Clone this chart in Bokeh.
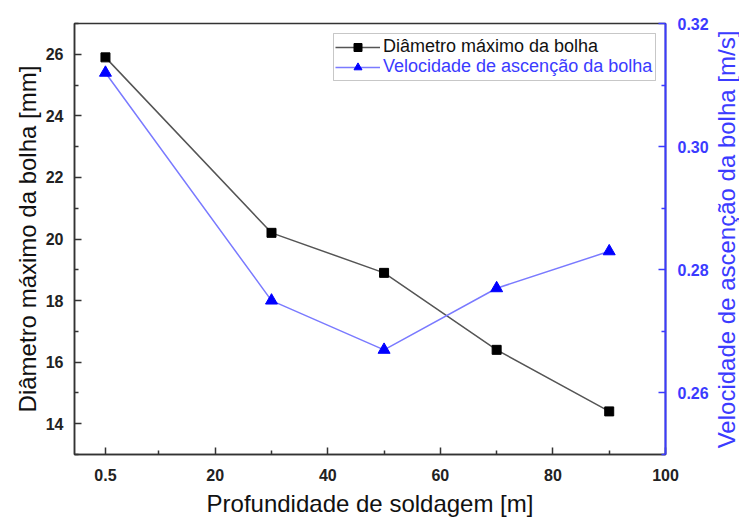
import math
from bokeh.plotting import figure
from bokeh.layouts import row
from bokeh.models import (Range1d, LinearAxis, FixedTicker, Legend, LegendItem,
                          BoxAnnotation, PrintfTickFormatter, Label)
from bokeh.embed import file_html
from bokeh.resources import INLINE

# data
depth = [0.5, 30, 50, 70, 90]
diameter = [25.9, 20.2, 18.9, 16.4, 14.4]
velocity = [0.312, 0.275, 0.267, 0.277, 0.283]

x_ticks = [0.5, 20, 40, 60, 80, 100]
x_tick_labels = {0.5: "0.5", 20: "20", 40: "40", 60: "60", 80: "80", 100: "100"}
x_minor = [10, 30, 50, 70, 90]
yl_ticks = [14, 16, 18, 20, 22, 24, 26]
yl_minor = [13, 15, 17, 19, 21, 23, 25, 27]
yr_ticks = [0.26, 0.28, 0.30, 0.32]
yr_minor = [0.25, 0.27, 0.29, 0.31]

FONT = "Liberation Sans"
BLUE = "#3b3bff"
DARK = "#333333"

p = figure(width=711, height=519, output_backend="svg", toolbar_location=None,
           x_range=Range1d(-5, 100), y_range=Range1d(13, 27),
           min_border_left=74, min_border_right=46, min_border_top=23,
           min_border_bottom=65)
p.extra_y_ranges = {"v": Range1d(0.25, 0.32)}
p.xgrid.visible = False
p.ygrid.visible = False
p.outline_line_color = DARK
p.outline_line_width = 1.5
p.background_fill_color = "white"
p.border_fill_color = "white"

# x axis
xa = p.xaxis[0]
xa.ticker = FixedTicker(ticks=x_ticks, minor_ticks=x_minor)
xa.major_label_overrides = x_tick_labels
xa.axis_label = "Profundidade de soldagem [m]"

# left axis
ya = p.yaxis[0]
ya.ticker = FixedTicker(ticks=yl_ticks, minor_ticks=yl_minor)
ya.axis_label = "Diâmetro máximo da bolha [mm]"

# right axis
ra = LinearAxis(y_range_name="v")
ra.ticker = FixedTicker(ticks=yr_ticks, minor_ticks=yr_minor)
ra.formatter = PrintfTickFormatter(format="%.2f")
p.add_layout(ra, "right")

for ax, col in [(xa, DARK), (ya, DARK), (ra, BLUE)]:
    ax.axis_line_color = col
    ax.axis_line_width = 1.5 if col == DARK else 2
    ax.major_tick_line_color = col
    ax.minor_tick_line_color = col
    ax.major_tick_line_width = 1.5
    ax.minor_tick_line_width = 1.5
    ax.major_tick_in = 7
    ax.major_tick_out = 0
    ax.minor_tick_in = 4
    ax.minor_tick_out = 0
    ax.major_label_text_font = FONT
    ax.major_label_text_font_style = "bold"
    ax.major_label_text_font_size = "16px"
    ax.major_label_text_color = col if col == BLUE else "#222222"
    ax.axis_label_text_font = FONT
    ax.axis_label_text_font_style = "normal"
    ax.axis_label_text_font_size = "24px"
    ax.axis_label_text_color = col if col == BLUE else "#111111"

xa.major_label_standoff = 14
xa.axis_label_standoff = 6
ya.major_label_standoff = 11
ya.axis_label_standoff = 2
ra.major_label_standoff = 12

# lines and markers
l1 = p.line(depth, diameter, line_color="#555555", line_width=1.5)
m1 = p.scatter(depth, diameter, marker="square", size=9, color="black")
l2 = p.line(depth, velocity, line_color="#7a7aff", line_width=1.5, y_range_name="v")
m2 = p.scatter(depth, velocity, marker="triangle", size=12, color="#0000ff",
               y_range_name="v")

# legend box
box = BoxAnnotation(left=259, right=581, top=421, bottom=374,
                    left_units="screen", right_units="screen",
                    top_units="screen", bottom_units="screen",
                    fill_color="white", fill_alpha=1.0,
                    line_color="#444444", line_width=1)
p.add_layout(box)

def make_legend(label, rends, color, loc):
    lg = Legend(items=[LegendItem(label=label, renderers=rends)], location=loc,
                border_line_color=None, background_fill_alpha=0,
                padding=0, margin=0, spacing=0,
                glyph_width=45, glyph_height=20, label_height=20,
                label_standoff=3,
                label_text_font=FONT, label_text_font_size="18px",
                label_text_color=color)
    return lg

p.add_layout(make_legend("Diâmetro máximo da bolha", [l1, m1], "#111111", (261, 397)))
p.add_layout(make_legend("Velocidade de ascenção da bolha", [l2, m2], BLUE, (261, 377)))

# narrow strip holding the right-axis title, reading bottom-to-top
p2 = figure(width=28, height=519, output_backend="svg", toolbar_location=None,
            x_range=Range1d(0, 1), y_range=Range1d(0, 1),
            x_axis_location=None, y_axis_location=None, min_border=0)
p2.xgrid.visible = False
p2.ygrid.visible = False
p2.outline_line_color = None
p2.background_fill_color = "white"
p2.border_fill_color = "white"
p2.add_layout(Label(x=15, y=215, x_units="screen", y_units="screen",
                    text="Velocidade de ascenção da bolha [m/s]", angle=math.pi / 2,
                    text_align="center", text_baseline="middle",
                    text_font=FONT, text_font_size="24px", text_color=BLUE))

open("out.html", "w").write(file_html(row(p, p2, spacing=0), INLINE))
